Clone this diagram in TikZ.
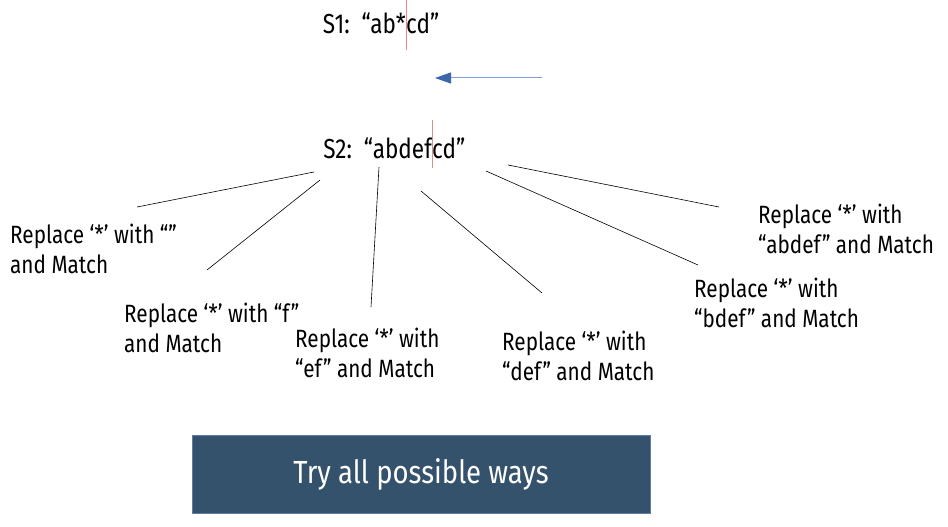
\documentclass[tikz,border=0pt]{standalone}
\usepackage{fontspec}
\setmainfont[FakeStretch=0.83]{Fira Sans}
\newfontfamily\strfont[FakeStretch=0.82]{Fira Sans}
\newfontfamily\boxfont[FakeStretch=0.86]{Fira Sans}
\usetikzlibrary{arrows.meta}
\definecolor{boxfill}{HTML}{34526B}
\definecolor{boxedge}{HTML}{5A7EA6}
\definecolor{arrline}{HTML}{7F9FD0}
\definecolor{arrhead}{HTML}{3B67AC}
\definecolor{cursor}{HTML}{E58A8A}
\tikzset{
  lbl/.style={anchor=base west, inner sep=0pt, align=left,
    font=\fontsize{25}{30}\selectfont},
  strn/.style={inner sep=0pt, font=\strfont\fontsize{27.5}{30}\selectfont},
  branch/.style={draw=black, line width=0.6pt},
  caret/.style={draw=cursor, line width=0.8pt},
}
\begin{document}
\begin{tikzpicture}[x=1pt,y=-1pt]
\useasboundingbox (0,0) rectangle (948,527);
% strings
\node[strn, anchor=base east] (s1a) at (406,34) {S1:\ \ “ab*};
\node[strn, anchor=base west] (s1b) at (406,34) {cd”};
\node[strn, anchor=base east] (s2a) at (432,158) {S2:\ \ “abdef};
\node[strn, anchor=base west] (s2b) at (432,158) {cd”};
% cursors
\coordinate (c1a) at (406,0); \coordinate (c1b) at (406,50);
\draw[caret] (c1a) -- (c1b);
\coordinate (c2a) at (432,120); \coordinate (c2b) at (432,168);
\draw[caret] (c2a) -- (c2b);
% arrow
\coordinate (ar1) at (542,78); \coordinate (ar2) at (435,78);
\draw[draw=arrline, line width=1pt, -{Triangle[length=16pt,width=11pt,color=arrhead,fill=arrhead]}] (ar1) -- (ar2);
% labels (anchored at the baseline of the last line)
\node[lbl] (l1) at (10,273) {Replace ‘*’ with “”\\and Match};
\node[lbl] (l2) at (124,352) {Replace ‘*’ with “f”\\and Match};
\node[lbl] (l3) at (295,377) {Replace ‘*’ with\\“ef” and Match};
\node[lbl] (l4) at (502,380) {Replace ‘*’ with\\“def” and Match};
\node[lbl] (l5) at (694,327) {Replace ‘*’ with\\“bdef” and Match};
\node[lbl] (l6) at (758,253) {Replace ‘*’ with\\“abdef” and Match};
% branches
\coordinate (b1s) at (314,172); \coordinate (b1e) at (137,207);
\coordinate (b2s) at (320,180); \coordinate (b2e) at (207,270);
\coordinate (b3s) at (379,167); \coordinate (b3e) at (371,307);
\coordinate (b4s) at (421,191); \coordinate (b4e) at (542,293);
\coordinate (b5s) at (486,171); \coordinate (b5e) at (698,265);
\coordinate (b6s) at (508,165); \coordinate (b6e) at (719,207);
\draw[branch] (b1s) -- (b1e);
\draw[branch] (b2s) -- (b2e);
\draw[branch] (b3s) -- (b3e);
\draw[branch] (b4s) -- (b4e);
\draw[branch] (b5s) -- (b5e);
\draw[branch] (b6s) -- (b6e);
% box
\node[draw=boxedge, line width=0.8pt, fill=boxfill, text=white, minimum width=458pt, minimum height=78pt, inner sep=0pt, font=\boxfont\fontsize{32}{36}\selectfont] (box) at (421,474) {Try all possible ways};
\end{tikzpicture}
\end{document}
